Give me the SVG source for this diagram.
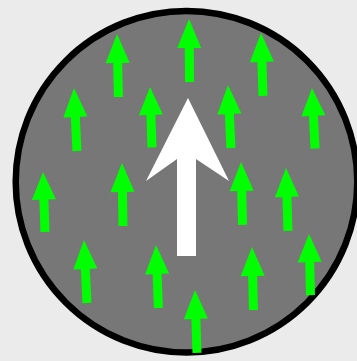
<svg xmlns="http://www.w3.org/2000/svg" xmlns:xlink="http://www.w3.org/1999/xlink" width="357" height="361" viewBox="0 0 357 361">
<style>
.bg{fill:#ebebeb}
.disk{fill:#777777;stroke:#000000;stroke-width:6.5}
.big{fill:#ffffff}
.ga{fill:#00ff00}
</style>
<defs>
<polygon id="ga" class="ga" points="0,0 12,29 4.5,29 4.5,63 -4.5,63 -4.5,29 -12,29"/>
</defs>
<rect class="bg" x="0" y="0" width="357" height="361"/>
<g id="disk">
<circle class="disk" cx="186.5" cy="181.7" r="170.8"/>
</g>
<g id="small-arrows">
<use xlink:href="#ga" transform="translate(189,19) rotate(-0.5)"/>
<use xlink:href="#ga" transform="translate(117,34) rotate(-1.3)"/>
<use xlink:href="#ga" transform="translate(261,33) rotate(-1.8)"/>
<use xlink:href="#ga" transform="translate(74,88) rotate(-2.7)"/>
<use xlink:href="#ga" transform="translate(150,87) rotate(-1.9) scale(1,0.96)"/>
<use xlink:href="#ga" transform="translate(228,85) rotate(-2.7)"/>
<use xlink:href="#ga" transform="translate(312,88) rotate(-2.9) scale(1,0.96)"/>
<use xlink:href="#ga" transform="translate(43,172) rotate(-1.9) scale(1,0.95)"/>
<use xlink:href="#ga" transform="translate(122,163) rotate(-0.9)"/>
<use xlink:href="#ga" transform="translate(241,162) rotate(-1.4)"/>
<use xlink:href="#ga" transform="translate(286,168) rotate(-1.8)"/>
<use xlink:href="#ga" transform="translate(84,240) rotate(-2.7)"/>
<use xlink:href="#ga" transform="translate(156,245) rotate(-2.2)"/>
<use xlink:href="#ga" transform="translate(252,247) rotate(-1.3)"/>
<use xlink:href="#ga" transform="translate(309,234) rotate(-1.4) scale(1,0.97)"/>
<use xlink:href="#ga" transform="translate(195,290) rotate(-1.8)"/>
</g>
<g id="big-arrow">
<polygon class="big" points="188,98 229,181 196,159 196,256 177,256 177,159 146,181"/>
</g>
</svg>
